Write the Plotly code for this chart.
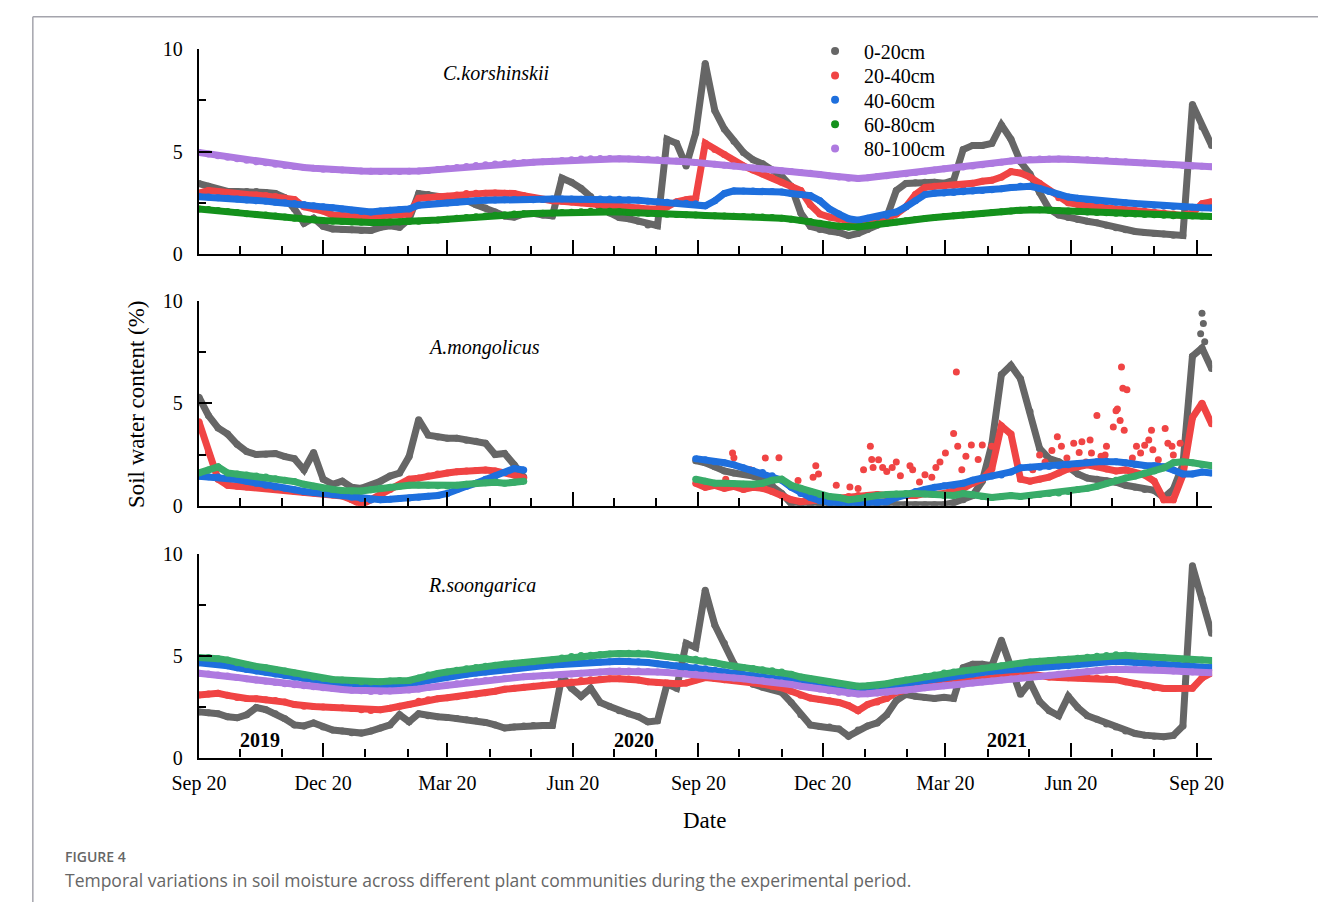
import pandas as pd
import plotly.graph_objects as go

# ---------------- data (weekly readings, % soil water content) ----------------
dates = pd.date_range("2019-09-20", periods=107, freq="7D")
N = None

# C.korshinskii
c_0_20 = [3.44, 3.30, 3.13, 3.05, 3.05, 3.05, 3.05, 3.00, 2.95, 2.75,
          2.20, 1.50, 1.75, 1.35, 1.22, 1.20, 1.18, 1.15, 1.15, 1.30,
          1.38, 1.30, 1.70, 2.95, 2.90, 2.80, 2.73, 2.68, 2.62, 2.40,
          2.25, 2.05, 1.85, 1.80, 1.95, 1.98, 1.90, 1.86, 3.70, 3.50,
          3.20, 2.80, 2.25, 2.00, 1.78, 1.72, 1.60, 1.42, 1.38, 5.60,
          5.40, 4.30, 5.90, 9.30, 7.00, 6.10, 5.50, 4.95, 4.60, 4.40,
          4.10, 3.80, 3.30, 2.00, 1.35, 1.20, 1.12, 1.05, 0.90, 1.00,
          1.20, 1.40, 1.80, 3.10, 3.44, 3.48, 3.50, 3.50, 3.45, 3.60,
          5.10, 5.30, 5.30, 5.40, 6.30, 5.60, 4.50, 3.90, 3.00, 2.20,
          1.90, 1.78, 1.68, 1.60, 1.52, 1.40, 1.28, 1.18, 1.10, 1.05,
          1.00, 0.97, 0.92, 0.90, 7.30, 6.20, 5.30]
c_20_40 = [2.97, 3.10, 3.05, 2.98, 2.95, 2.90, 2.88, 2.85, 2.80, 2.72,
           2.66, 2.30, 2.20, 2.10, 1.90, 1.86, 1.84, 1.83, 1.84, 1.86,
           1.88, 1.90, 1.95, 2.72, 2.76, 2.80, 2.82, 2.88, 2.95, 2.97,
           2.97, 2.98, 2.97, 2.95, 2.85, 2.75, 2.66, 2.60, 2.57, 2.54,
           2.50, 2.48, 2.45, 2.40, 2.34, 2.30, 2.25, 2.20, 2.20, 2.30,
           2.55, 2.65, 2.72, 5.40, 5.10, 4.85, 4.55, 4.30, 4.10, 3.90,
           3.72, 3.50, 3.30, 3.10, 2.40, 1.95, 1.80, 1.70, 1.60, 1.55,
           1.62, 1.70, 1.78, 1.95, 2.30, 2.90, 3.25, 3.30, 3.32, 3.34,
           3.36, 3.45, 3.55, 3.60, 3.75, 4.02, 3.95, 3.75, 3.45, 3.10,
           2.75, 2.50, 2.42, 2.35, 2.28, 2.24, 2.20, 2.16, 2.12, 2.08,
           2.04, 2.00, 1.95, 1.88, 2.00, 2.45, 2.55]
c_40_60 = [2.80, 2.78, 2.75, 2.72, 2.68, 2.64, 2.60, 2.58, 2.53, 2.50,
           2.46, 2.41, 2.36, 2.30, 2.26, 2.20, 2.13, 2.07, 2.05, 2.10,
           2.14, 2.17, 2.20, 2.38, 2.43, 2.46, 2.49, 2.52, 2.56, 2.60,
           2.62, 2.64, 2.65, 2.66, 2.66, 2.65, 2.66, 2.68, 2.68, 2.68,
           2.67, 2.67, 2.68, 2.68, 2.67, 2.65, 2.62, 2.58, 2.55, 2.53,
           2.50, 2.48, 2.45, 2.35, 2.60, 2.95, 3.08, 3.08, 3.07, 3.06,
           3.05, 3.02, 2.95, 2.90, 2.85, 2.60, 2.20, 1.95, 1.72, 1.65,
           1.75, 1.80, 1.88, 2.05, 2.30, 2.60, 2.90, 2.96, 2.98, 3.00,
           3.04, 3.08, 3.10, 3.14, 3.18, 3.24, 3.30, 3.30, 3.20, 3.05,
           2.90, 2.78, 2.72, 2.66, 2.60, 2.56, 2.53, 2.50, 2.46, 2.42,
           2.38, 2.34, 2.32, 2.30, 2.28, 2.26, 2.25]
c_60_80 = [2.20, 2.17, 2.12, 2.07, 2.02, 1.97, 1.93, 1.90, 1.85, 1.80,
           1.75, 1.71, 1.67, 1.63, 1.60, 1.58, 1.56, 1.55, 1.54, 1.54,
           1.55, 1.56, 1.58, 1.60, 1.63, 1.66, 1.70, 1.74, 1.78, 1.82,
           1.86, 1.89, 1.92, 1.95, 1.97, 1.98, 1.99, 2.00, 2.02, 2.04,
           2.06, 2.08, 2.09, 2.08, 2.06, 2.03, 2.00, 1.98, 1.96, 1.94,
           1.93, 1.92, 1.90, 1.88, 1.87, 1.85, 1.84, 1.83, 1.82, 1.80,
           1.78, 1.75, 1.70, 1.65, 1.58, 1.50, 1.42, 1.35, 1.30, 1.32,
           1.38, 1.45, 1.50, 1.56, 1.62, 1.68, 1.73, 1.78, 1.83, 1.87,
           1.90, 1.94, 1.98, 2.02, 2.06, 2.10, 2.14, 2.17, 2.16, 2.14,
           2.12, 2.10, 2.07, 2.05, 2.03, 2.01, 1.99, 1.97, 1.95, 1.93,
           1.91, 1.89, 1.87, 1.86, 1.85, 1.84, 1.83]
c_80_100 = [4.95, 4.88, 4.80, 4.72, 4.65, 4.58, 4.50, 4.45, 4.38, 4.32,
            4.27, 4.22, 4.18, 4.14, 4.12, 4.10, 4.07, 4.05, 4.04, 4.03,
            4.03, 4.03, 4.04, 4.05, 4.08, 4.12, 4.17, 4.22, 4.27, 4.32,
            4.36, 4.39, 4.42, 4.45, 4.47, 4.48, 4.50, 4.52, 4.56, 4.60,
            4.63, 4.65, 4.66, 4.66, 4.65, 4.64, 4.63, 4.62, 4.60, 4.57,
            4.54, 4.50, 4.47, 4.43, 4.38, 4.33, 4.29, 4.25, 4.20, 4.15,
            4.10, 4.06, 4.02, 3.98, 3.94, 3.88, 3.82, 3.76, 3.70, 3.68,
            3.72, 3.78, 3.82, 3.88, 3.92, 3.98, 4.04, 4.10, 4.16, 4.20,
            4.24, 4.30, 4.36, 4.42, 4.48, 4.54, 4.58, 4.61, 4.63, 4.64,
            4.63, 4.62, 4.61, 4.60, 4.58, 4.56, 4.53, 4.50, 4.47, 4.44,
            4.41, 4.38, 4.35, 4.32, 4.30, 4.28, 4.26]

# A.mongolicus (no records from late May to mid September 2020)
a_0_20 = [5.30, 4.40, 3.80, 3.50, 3.00, 2.65, 2.50, 2.52, 2.55, 2.40,
          2.30, 1.75, 2.60, 1.30, 1.05, 1.20, 0.90, 0.85, 1.00, 1.20,
          1.45, 1.60, 2.40, 4.20, 3.45, 3.35, 3.30, 3.30, 3.20, 3.15,
          3.05, 2.50, 2.55, 2.00, 1.40, N, N, N, N, N,
          N, N, N, N, N, N, N, N, N, N,
          N, N, 2.20, 2.10, 1.90, 1.70, 1.60, 1.55, 1.45, 1.30,
          1.00, 0.60, 0.10, 0.05, 0.05, 0.05, 0.05, 0.05, 0.05, 0.05,
          0.05, 0.05, 0.05, 0.05, 0.05, 0.05, 0.05, 0.05, 0.05, 0.15,
          0.30, 0.50, 1.20, 3.00, 6.40, 6.85, 6.20, 4.60, 2.80, 2.30,
          2.15, 1.90, 1.55, 1.35, 1.30, 1.22, 1.15, 1.00, 0.90, 0.80,
          0.75, 0.40, 0.80, 2.00, 7.30, 7.70, 6.70]
a_20_40 = [4.10, 2.60, 1.30, 1.00, 0.95, 0.92, 0.90, 0.85, 0.80, 0.75,
           0.70, 0.65, 0.62, 0.58, 0.52, 0.48, 0.30, 0.05, 0.30, 0.55,
           0.80, 1.00, 1.30, 1.35, 1.45, 1.55, 1.60, 1.66, 1.70, 1.72,
           1.75, 1.70, 1.62, 1.50, 1.35, N, N, N, N, N,
           N, N, N, N, N, N, N, N, N, N,
           N, N, 1.10, 0.90, 1.00, 0.85, 0.95, 0.80, 0.90, 0.85,
           0.70, 0.50, 0.30, 0.20, 0.25, 0.30, 0.35, 0.40, 0.45, 0.50,
           0.50, 0.55, 0.50, 0.50, 0.55, 0.50, 0.60, 0.55, 0.60, 0.70,
           0.85, 1.10, 1.30, 1.80, 3.90, 3.50, 1.30, 1.20, 1.30, 1.40,
           1.60, 1.80, 1.90, 2.00, 1.90, 1.80, 1.70, 1.75, 1.60, 1.50,
           1.20, 0.30, 0.30, 1.50, 4.30, 5.00, 4.00]
a_40_60 = [1.44, 1.42, 1.40, 1.37, 1.28, 1.20, 1.10, 1.00, 0.92, 0.85,
           0.78, 0.70, 0.65, 0.60, 0.55, 0.50, 0.42, 0.35, 0.28, 0.30,
           0.32, 0.35, 0.38, 0.42, 0.46, 0.50, 0.60, 0.80, 0.95, 1.10,
           1.30, 1.45, 1.62, 1.82, 1.75, N, N, N, N, N,
           N, N, N, N, N, N, N, N, N, N,
           N, N, 2.30, 2.25, 2.15, 2.10, 2.00, 1.85, 1.72, 1.62,
           1.47, 1.25, 0.90, 0.60, 0.40, 0.25, 0.15, 0.12, 0.12, 0.12,
           0.13, 0.15, 0.20, 0.40, 0.55, 0.70, 0.80, 0.90, 0.98, 1.00,
           1.10, 1.25, 1.35, 1.45, 1.50, 1.65, 1.85, 1.88, 1.88, 1.92,
           1.95, 2.00, 2.05, 2.10, 2.15, 2.17, 2.15, 2.10, 2.02, 1.97,
           1.95, 1.90, 1.75, 1.55, 1.55, 1.65, 1.60]
a_60_80 = [1.60, 1.75, 1.90, 1.60, 1.55, 1.50, 1.45, 1.40, 1.32, 1.25,
           1.18, 1.05, 0.95, 0.85, 0.80, 0.75, 0.72, 0.72, 0.78, 0.85,
           0.90, 0.95, 1.00, 1.02, 1.00, 0.98, 0.97, 1.00, 1.05, 1.10,
           1.12, 1.15, 1.10, 1.15, 1.20, N, N, N, N, N,
           N, N, N, N, N, N, N, N, N, N,
           N, N, 1.30, 1.20, 1.10, 1.10, 1.08, 1.05, 1.05, 1.10,
           1.25, 1.30, 1.00, 0.85, 0.70, 0.55, 0.45, 0.40, 0.30, 0.35,
           0.45, 0.50, 0.55, 0.58, 0.60, 0.60, 0.58, 0.55, 0.50, 0.50,
           0.60, 0.55, 0.45, 0.40, 0.45, 0.50, 0.45, 0.50, 0.55, 0.60,
           0.62, 0.70, 0.80, 0.85, 0.95, 1.10, 1.25, 1.35, 1.45, 1.60,
           1.70, 1.85, 2.10, 2.15, 2.10, 2.00, 1.95]
# isolated readings (spikes) for A.mongolicus
a_20_40_spike_dates = ["2020-10-10", "2020-10-15", "2020-10-16", "2020-10-28", "2020-11-08",
                       "2020-11-18", "2020-12-02", "2020-12-13", "2020-12-15", "2020-12-17",
                       "2020-12-30", "2021-01-09", "2021-01-15", "2021-01-19", "2021-01-24",
                       "2021-01-25", "2021-01-26", "2021-01-30", "2021-02-02", "2021-02-05",
                       "2021-02-09", "2021-02-12", "2021-02-15", "2021-02-22", "2021-02-24",
                       "2021-03-01", "2021-03-05", "2021-03-10", "2021-03-13", "2021-03-16",
                       "2021-03-20", "2021-03-26", "2021-03-28", "2021-03-29", "2021-04-01",
                       "2021-04-04", "2021-04-08", "2021-04-13", "2021-04-16", "2021-04-23",
                       "2021-05-23", "2021-05-28", "2021-06-01", "2021-06-06", "2021-06-10",
                       "2021-06-13", "2021-06-17", "2021-06-22", "2021-06-26", "2021-06-28",
                       "2021-07-01", "2021-07-04", "2021-07-05", "2021-07-09", "2021-07-12",
                       "2021-07-15", "2021-07-16", "2021-07-21", "2021-07-23", "2021-07-24",
                       "2021-07-26", "2021-07-27", "2021-07-28", "2021-07-29", "2021-07-31",
                       "2021-08-04", "2021-08-07", "2021-08-10", "2021-08-13", "2021-08-16",
                       "2021-08-18", "2021-08-19", "2021-08-23", "2021-08-28", "2021-08-30",
                       "2021-09-02", "2021-09-03", "2021-09-08"]
a_20_40_spike_vals = [1.29, 2.58, 2.34, 1.76, 2.33,
                      2.34, 1.23, 1.39, 1.95, 1.55,
                      1.00, 0.92, 0.84, 1.76, 2.90,
                      2.26, 1.87, 2.24, 1.87, 1.67,
                      1.87, 2.14, 1.47, 1.95, 1.76,
                      1.16, 1.52, 1.39, 1.87, 2.14,
                      2.58, 3.53, 6.53, 2.90, 1.76,
                      2.42, 2.97, 2.26, 2.97, 2.90,
                      1.76, 2.48, 2.14, 2.70, 3.37,
                      2.90, 2.33, 3.05, 2.60, 3.13,
                      2.14, 3.21, 2.58, 4.40, 2.42,
                      2.48, 2.90, 3.84, 4.64, 4.72,
                      4.16, 6.77, 5.74, 3.69, 5.66,
                      2.33, 2.90, 2.58, 2.95, 3.21,
                      3.69, 2.74, 2.24, 3.77, 3.05,
                      2.90, 2.48, 3.05]
a_0_20_spike_dates = ["2021-09-23", "2021-09-24", "2021-09-25", "2021-09-26"]
a_0_20_spike_vals = [8.4, 9.4, 8.9, 8.0]

# R.soongarica
r_0_20 = [2.24, 2.20, 2.15, 2.00, 1.95, 2.10, 2.45, 2.35, 2.15, 1.90,
          1.60, 1.55, 1.70, 1.50, 1.35, 1.30, 1.22, 1.20, 1.30, 1.45,
          1.60, 2.10, 1.75, 2.15, 2.05, 2.00, 1.97, 1.92, 1.85, 1.80,
          1.72, 1.60, 1.45, 1.50, 1.55, 1.57, 1.57, 1.57, 4.00, 3.40,
          3.00, 3.40, 2.70, 2.50, 2.30, 2.15, 2.00, 1.75, 1.80, 3.60,
          3.40, 5.60, 5.40, 8.20, 6.50, 5.60, 4.60, 3.90, 3.60, 3.45,
          3.35, 3.20, 2.70, 2.10, 1.60, 1.52, 1.50, 1.40, 1.05, 1.35,
          1.55, 1.70, 2.10, 2.80, 3.10, 3.00, 2.95, 2.90, 2.95, 2.90,
          4.40, 4.57, 4.57, 4.50, 5.75, 4.50, 3.10, 3.70, 2.75, 2.30,
          2.05, 3.00, 2.45, 2.05, 1.88, 1.65, 1.50, 1.30, 1.18, 1.10,
          1.05, 1.02, 1.08, 1.55, 9.40, 7.80, 6.10]
r_20_40 = [3.07, 3.12, 3.15, 3.05, 2.95, 2.90, 2.88, 2.84, 2.80, 2.72,
           2.60, 2.52, 2.50, 2.48, 2.46, 2.44, 2.40, 2.35, 2.31, 2.35,
           2.42, 2.52, 2.60, 2.76, 2.83, 2.88, 2.93, 2.98, 3.05, 3.12,
           3.18, 3.25, 3.35, 3.40, 3.45, 3.50, 3.55, 3.58, 3.62, 3.70,
           3.78, 3.82, 3.84, 3.86, 3.86, 3.85, 3.80, 3.72, 3.68, 3.65,
           3.62, 3.65, 3.80, 3.92, 3.88, 3.82, 3.80, 3.78, 3.70, 3.60,
           3.50, 3.42, 3.25, 3.05, 2.92, 2.85, 2.78, 2.70, 2.55, 2.30,
           2.60, 2.72, 2.90, 3.20, 3.35, 3.42, 3.50, 3.55, 3.62, 3.68,
           3.75, 3.80, 3.86, 3.90, 3.96, 4.05, 4.12, 4.10, 4.00, 3.95,
           3.92, 3.91, 3.91, 3.91, 3.90, 3.86, 3.82, 3.72, 3.62, 3.52,
           3.42, 3.39, 3.38, 3.38, 3.40, 3.90, 4.15]
r_40_60 = [4.65, 4.62, 4.57, 4.50, 4.40, 4.32, 4.25, 4.18, 4.10, 4.02,
           3.94, 3.85, 3.77, 3.70, 3.65, 3.60, 3.56, 3.52, 3.47, 3.47,
           3.50, 3.53, 3.55, 3.65, 3.78, 3.87, 3.95, 4.02, 4.08, 4.14,
           4.20, 4.27, 4.33, 4.38, 4.42, 4.46, 4.50, 4.54, 4.58, 4.62,
           4.65, 4.67, 4.69, 4.70, 4.72, 4.72, 4.70, 4.66, 4.60, 4.55,
           4.50, 4.46, 4.42, 4.35, 4.28, 4.20, 4.12, 4.07, 4.02, 3.97,
           3.93, 3.88, 3.80, 3.70, 3.64, 3.56, 3.50, 3.44, 3.38, 3.34,
           3.36, 3.40, 3.48, 3.57, 3.64, 3.73, 3.82, 3.90, 3.96, 4.00,
           4.05, 4.10, 4.17, 4.23, 4.26, 4.32, 4.37, 4.41, 4.44, 4.47,
           4.49, 4.50, 4.55, 4.60, 4.65, 4.70, 4.72, 4.70, 4.66, 4.62,
           4.58, 4.55, 4.50, 4.46, 4.43, 4.42, 4.41]
r_60_80 = [4.91, 4.90, 4.85, 4.78, 4.65, 4.55, 4.47, 4.40, 4.32, 4.25,
           4.15, 4.05, 3.95, 3.88, 3.83, 3.80, 3.77, 3.72, 3.70, 3.72,
           3.75, 3.78, 3.78, 3.90, 4.05, 4.12, 4.20, 4.28, 4.35, 4.42,
           4.48, 4.52, 4.57, 4.62, 4.66, 4.70, 4.75, 4.80, 4.88, 4.95,
           5.00, 5.02, 5.05, 5.08, 5.10, 5.12, 5.12, 5.08, 5.02, 4.96,
           4.92, 4.86, 4.82, 4.75, 4.65, 4.55, 4.48, 4.42, 4.37, 4.30,
           4.26, 4.20, 4.08, 3.95, 3.87, 3.78, 3.70, 3.62, 3.53, 3.50,
           3.52, 3.55, 3.62, 3.72, 3.80, 3.88, 3.98, 4.05, 4.15, 4.20,
           4.25, 4.30, 4.38, 4.45, 4.50, 4.57, 4.63, 4.69, 4.72, 4.76,
           4.79, 4.82, 4.87, 4.92, 4.97, 5.00, 5.04, 5.02, 4.98, 4.95,
           4.92, 4.90, 4.86, 4.82, 4.80, 4.78, 4.76]
r_80_100 = [4.13, 4.10, 4.05, 4.00, 3.93, 3.86, 3.80, 3.74, 3.68, 3.62,
            3.57, 3.52, 3.47, 3.42, 3.38, 3.34, 3.30, 3.27, 3.24, 3.24,
            3.26, 3.29, 3.31, 3.36, 3.44, 3.50, 3.56, 3.62, 3.68, 3.73,
            3.78, 3.83, 3.88, 3.93, 3.96, 3.99, 4.01, 4.02, 4.06, 4.10,
            4.13, 4.16, 4.20, 4.23, 4.24, 4.25, 4.24, 4.22, 4.20, 4.17,
            4.14, 4.11, 4.08, 4.05, 4.00, 3.95, 3.90, 3.86, 3.80, 3.76,
            3.72, 3.66, 3.58, 3.50, 3.43, 3.36, 3.28, 3.20, 3.14, 3.12,
            3.13, 3.16, 3.20, 3.25, 3.30, 3.36, 3.42, 3.47, 3.52, 3.56,
            3.60, 3.65, 3.70, 3.75, 3.80, 3.85, 3.90, 3.94, 3.98, 4.03,
            4.08, 4.12, 4.17, 4.22, 4.27, 4.31, 4.33, 4.33, 4.33, 4.32,
            4.30, 4.27, 4.24, 4.21, 4.19, 4.17, 4.16]

depths = ["0-20cm", "20-40cm", "40-60cm", "60-80cm", "80-100cm"]
species = ["C.korshinskii", "A.mongolicus", "R.soongarica"]
years = ["2019", "2020", "2021"]
tick_values = [0, 5, 10]

# ---------------- styling ----------------
W, H = 1329, 913
col_gray = "#666666"
col_red = "#f04444"
col_blue = "#1e6fdd"
col_green_dark = "#14911c"
col_green = "#38ac69"
col_purple = "#ae7ae0"
SERIF = "Liberation Serif"
LW, MS = 7, 7

panels = [
    ("x", "y", [c_0_20, c_20_40, c_40_60, c_60_80, c_80_100],
     [col_gray, col_red, col_blue, col_green_dark, col_purple]),
    ("x2", "y2", [a_0_20, a_20_40, a_40_60, a_60_80, N],
     [col_gray, col_red, col_blue, col_green, col_purple]),
    ("x3", "y3", [r_0_20, r_20_40, r_40_60, r_60_80, r_80_100],
     [col_gray, col_red, col_blue, col_green, col_purple]),
]

fig = go.Figure()
for xa, ya, series, cols in panels:
    for i, (name, vals, c) in enumerate(zip(depths, series, cols)):
        if vals is None:
            continue
        assert len(vals) == len(dates), (name, len(vals))
        fig.add_trace(go.Scatter(
            x=dates, y=vals, xaxis=xa, yaxis=ya, mode="lines+markers",
            line=dict(color=c, width=LW), marker=dict(color=c, size=MS),
            showlegend=False, name=name, hoverinfo="skip"))
        if xa == "x2" and i == 0:
            fig.add_trace(go.Scatter(
                x=pd.to_datetime(a_0_20_spike_dates), y=a_0_20_spike_vals,
                xaxis=xa, yaxis=ya, mode="markers",
                marker=dict(color=col_gray, size=MS), showlegend=False))
        if xa == "x2" and i == 1:
            fig.add_trace(go.Scatter(
                x=pd.to_datetime(a_20_40_spike_dates), y=a_20_40_spike_vals,
                xaxis=xa, yaxis=ya, mode="markers",
                marker=dict(color=col_red, size=MS), showlegend=False))

# legend entries: one legend box per depth so the rows sit 25 px apart
legend_rows_px = [41, 66, 91, 116, 141]
legend_cfg = {}
for j, (name, c) in enumerate(zip(depths, [col_gray, col_red, col_blue, col_green_dark, col_purple])):
    key = "legend" if j == 0 else "legend%d" % (j + 1)
    fig.add_trace(go.Scatter(x=[None], y=[None], xaxis="x", yaxis="y",
                             mode="markers", marker=dict(color=c, size=8),
                             name=name, showlegend=True, legend=key))
    legend_cfg[key] = dict(x=802 / W, y=1 - legend_rows_px[j] / H, xanchor="left", yanchor="middle",
                           font=dict(family=SERIF, size=20, color="black"),
                           bgcolor="rgba(0,0,0,0)", itemwidth=48)

x_dom = [177 / W, 1220 / W]
y_doms = [[1 - 249 / H, 1 - 39 / H], [1 - 507 / H, 1 - 297 / H], [1 - 765 / H, 1 - 556 / H]]

def xaxis_cfg(show_labels, anchor):
    return dict(
        domain=x_dom, anchor=anchor, type="date",
        range=["2019-09-20", "2021-10-01 10:00"],
        showline=True, linecolor="black", linewidth=2.2,
        ticks="inside", ticklen=14, tickwidth=2, tickcolor="black",
        tick0="2019-09-20", dtick="M3", tickformat="%b %d",
        minor=dict(ticks="inside", ticklen=8, tickwidth=2, tickcolor="black",
                   tick0="2019-09-20", dtick="M1"),
        showgrid=False, zeroline=False, showticklabels=show_labels,
        tickfont=dict(family=SERIF, size=20, color="black"),
        ticklabelstandoff=6,
    )

def yaxis_cfg(dom, anchor):
    return dict(
        domain=dom, anchor=anchor, range=[0, 10],
        showline=True, linecolor="black", linewidth=2.2,
        tickmode="array", tickvals=tick_values,
        ticks="inside", ticklen=13, tickwidth=2, tickcolor="black",
        minor=dict(ticks="inside", ticklen=7, tickwidth=2, tickcolor="black",
                   tickmode="array", tickvals=[2.5, 7.5]),
        showgrid=False, zeroline=False,
        tickfont=dict(family=SERIF, size=20, color="black"),
        ticklabelstandoff=10,
    )

annotations = []
def ann(text, xpx, ypx, size=20, anchor="center", angle=0, family=SERIF, color="black", weight=None):
    f = dict(family=family, size=size, color=color)
    if weight:
        f["weight"] = weight
    annotations.append(dict(text=text, x=xpx / W, y=1 - ypx / H, xref="paper", yref="paper",
                            showarrow=False, xanchor=anchor, yanchor="middle",
                            textangle=angle, font=f))

ann("<i>" + species[0] + "</i>", 483, 64)
ann("<i>" + species[1] + "</i>", 470, 345)
ann("<i>" + species[2] + "</i>", 468, 589)
for yr, xp in zip(years, [240, 625, 1009]):
    ann("<b>" + yr + "</b>", xp, 747)
ann("Soil water content (%)", 113, 403, size=23, angle=-90)
ann("Date", 697, 829, size=23)
ann("FIGURE 4", 37, 866, size=14, anchor="left", family="Open Sans", color="#666666", weight=600)
ann("Temporal variations in soil moisture across different plant communities during the experimental period.",
    37, 890, size=17.5, anchor="left", family="Open Sans", color="#666666")

shapes = [
    dict(type="line", xref="paper", yref="paper", x0=6 / W, x1=1, y0=1 - 6 / H, y1=1 - 6 / H,
         line=dict(color="#a4a4ac", width=1.5)),
    dict(type="line", xref="paper", yref="paper", x0=6 / W, x1=6 / W, y0=0, y1=1 - 6 / H,
         line=dict(color="#a4a4ac", width=1.5)),
]

fig.update_layout(
    width=W, height=H, margin=dict(l=0, r=0, t=0, b=0),
    paper_bgcolor="white", plot_bgcolor="white",
    xaxis=xaxis_cfg(False, "y"), xaxis2=xaxis_cfg(False, "y2"), xaxis3=xaxis_cfg(True, "y3"),
    yaxis=yaxis_cfg(y_doms[0], "x"), yaxis2=yaxis_cfg(y_doms[1], "x2"), yaxis3=yaxis_cfg(y_doms[2], "x3"),
    showlegend=True,
    annotations=annotations, shapes=shapes,
    **legend_cfg,
)

fig.write_html("out.html")
